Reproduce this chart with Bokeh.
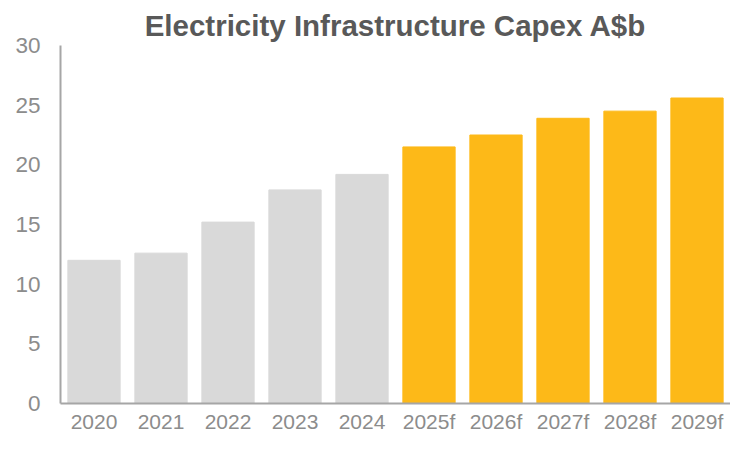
from bokeh.plotting import figure
from bokeh.models import ColumnDataSource, Range1d, FixedTicker
from bokeh.embed import file_html
from bokeh.resources import INLINE

years = ["2020", "2021", "2022", "2023", "2024", "2025f", "2026f", "2027f", "2028f", "2029f"]
capex = [12.0, 12.6, 15.2, 17.9, 19.2, 21.5, 22.5, 23.9, 24.5, 25.6]
forecast = [False, False, False, False, False, True, True, True, True, True]
y_ticks = [0, 5, 10, 15, 20, 25, 30]

GREY = "#D9D9D9"
GOLD = "#FDB918"
colors = [GOLD if f else GREY for f in forecast]

src = ColumnDataSource(dict(x=years, top=capex, color=colors))

p = figure(
    x_range=years, y_range=Range1d(0, 30),
    width=730, height=435,
    output_backend="svg", toolbar_location=None,
    min_border_left=60, min_border_right=0, min_border_top=45, min_border_bottom=20,
    title="Electricity Infrastructure Capex A$b",
)
p.vbar(x="x", top="top", width=0.78, color="color", source=src)

p.title.align = "center"
p.title.text_font = "Liberation Sans"
p.title.text_font_size = "29.5px"
p.title.text_font_style = "bold"
p.title.text_color = "#595959"
p.title.offset = 0
p.title.standoff = 8

p.outline_line_color = None
p.xgrid.grid_line_color = None
p.ygrid.grid_line_color = None
p.x_range.range_padding = 0.0

for ax in (p.xaxis, p.yaxis):
    ax.axis_line_color = "#A6A6A6"
    ax.axis_line_width = 2
    ax.major_tick_line_color = None
    ax.minor_tick_line_color = None
    ax.major_tick_out = 0
    ax.major_tick_in = 0
    ax.minor_tick_out = 0
    ax.minor_tick_in = 0
    ax.major_label_text_font = "Liberation Sans"
    ax.major_label_text_color = "#8C8C8C"

p.xaxis.major_label_text_font_size = "21px"
p.yaxis.major_label_text_font_size = "22.5px"
p.yaxis.ticker = FixedTicker(ticks=y_ticks)
p.yaxis.major_label_standoff = 20
p.xaxis.major_label_standoff = 6

open("out.html", "w").write(file_html(p, INLINE))
